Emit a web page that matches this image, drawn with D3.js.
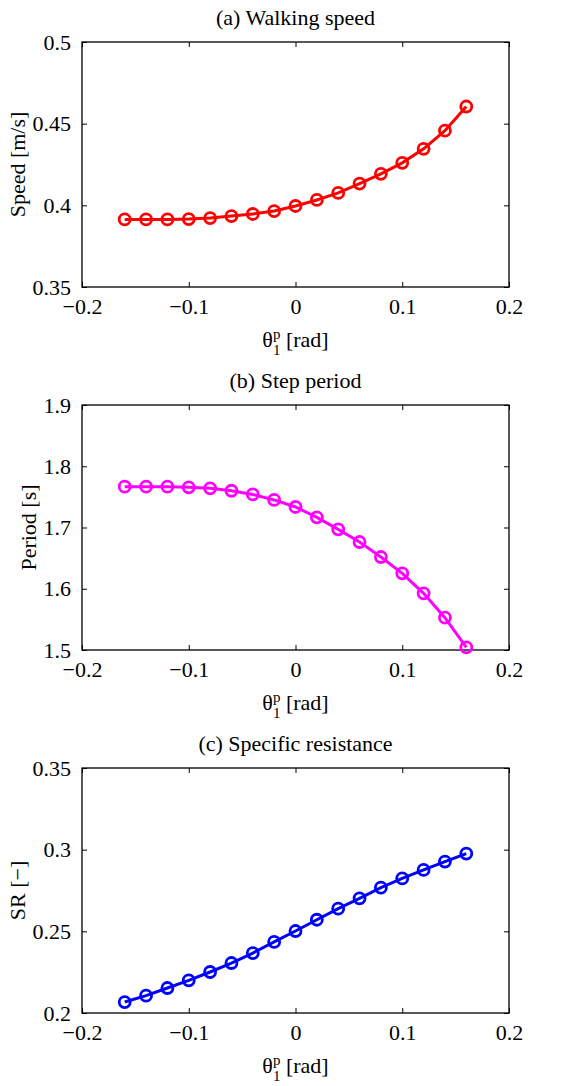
<!DOCTYPE html>
<html>
<head>
<meta charset="utf-8">
<script src="https://cdn.jsdelivr.net/npm/d3@7"></script>
<style>
  body { margin: 0; background: #fff; }
  text { font-family: "Liberation Serif", "Times New Roman", serif; }
</style>
</head>
<body>
<div id="chart"></div>
<script>
var width = 566;
var height = 1086;

// shared x values (theta_1^p, rad)
var thetaP = [-0.16, -0.14, -0.12, -0.10, -0.08, -0.06, -0.04, -0.02, 0,
              0.02, 0.04, 0.06, 0.08, 0.10, 0.12, 0.14, 0.16];
var xTicks = [-0.2, -0.1, 0, 0.1, 0.2];

// (a) walking speed
var speed = [0.3914, 0.3914, 0.3914, 0.3916, 0.3922, 0.3934, 0.3947, 0.3965, 0.3996,
             0.4033, 0.4076, 0.4133, 0.4193, 0.4260, 0.4346, 0.4457, 0.4605];
var speedTicks = [0.35, 0.4, 0.45, 0.5];

// (b) step period
var period = [1.7667, 1.7667, 1.7667, 1.7656, 1.764, 1.760, 1.754, 1.745, 1.7335,
              1.7166, 1.697, 1.6763, 1.6518, 1.6252, 1.5925, 1.5528, 1.5044];
var periodTicks = [1.5, 1.6, 1.7, 1.8, 1.9];

// (c) specific resistance
var sr = [0.2067, 0.2106, 0.2153, 0.2200, 0.2251, 0.2306, 0.2367, 0.2435, 0.2502,
          0.2571, 0.2639, 0.2702, 0.2767, 0.2824, 0.2876, 0.2927, 0.2976];
var srTicks = [0.2, 0.25, 0.3, 0.35];

var panels = [
  {title: "(a) Walking speed", ylabel: "Speed [m/s]", values: speed, ticks: speedTicks,
   color: "#ff0000", top: 42, ylabelX: 17},
  {title: "(b) Step period", ylabel: "Period [s]", values: period, ticks: periodTicks,
   color: "#ff00ff", top: 405, ylabelX: 28},
  {title: "(c) Specific resistance", ylabel: "SR [\u2212]", values: sr, ticks: srTicks,
   color: "#0000ff", top: 768, ylabelX: 17}
];

var left = 82, right = 509, plotH = 245;
var fontSize = 22;
var tickLen = 5;

var svg = d3.select("#chart")
  .append("svg")
  .attr("width", width)
  .attr("height", height);

function fmt(d) {
  return String(+d.toFixed(3)).replace("-", "\u2212");
}

panels.forEach(function(p) {
  var top = p.top, bottom = top + plotH;

  var x = d3.scaleLinear()
    .domain([xTicks[0], xTicks[xTicks.length - 1]])
    .range([left, right]);
  var y = d3.scaleLinear()
    .domain([p.ticks[0], p.ticks[p.ticks.length - 1]])
    .range([bottom, top]);

  var g = svg.append("g");

  // axes: bottom/left with labels, top/right ticks only (inside)
  g.append("g")
    .attr("transform", "translate(0," + bottom + ")")
    .call(d3.axisBottom(x).tickValues(xTicks).tickSizeInner(-tickLen).tickSizeOuter(0).tickPadding(11).tickFormat(fmt));
  g.append("g")
    .attr("transform", "translate(0," + top + ")")
    .call(d3.axisTop(x).tickValues(xTicks).tickSizeInner(-tickLen).tickSizeOuter(0).tickFormat(""));
  g.append("g")
    .attr("transform", "translate(" + left + ",0)")
    .call(d3.axisLeft(y).tickValues(p.ticks).tickSizeInner(-tickLen).tickSizeOuter(0).tickPadding(11).tickFormat(fmt));
  g.append("g")
    .attr("transform", "translate(" + right + ",0)")
    .call(d3.axisRight(y).tickValues(p.ticks).tickSizeInner(-tickLen).tickSizeOuter(0).tickFormat(""));

  g.selectAll(".domain").remove();
  g.selectAll(".tick line").attr("stroke", "#000").attr("stroke-width", 1);
  g.selectAll(".tick text")
    .attr("fill", "#000")
    .style("font-size", fontSize + "px")
    .style("font-family", "'Liberation Serif', 'Times New Roman', serif");

  g.append("rect")
    .attr("x", left).attr("y", top)
    .attr("width", right - left).attr("height", plotH)
    .attr("fill", "none").attr("stroke", "#000").attr("stroke-width", 1.3);

  // title
  g.append("text")
    .attr("x", (left + right) / 2)
    .attr("y", top - 17)
    .attr("text-anchor", "middle")
    .style("font-size", fontSize + "px")
    .text(p.title);

  // y label
  g.append("text")
    .attr("transform", "translate(" + p.ylabelX + "," + (top + plotH / 2) + ") rotate(-90)")
    .attr("text-anchor", "middle")
    .attr("dominant-baseline", "central")
    .style("font-size", fontSize + "px")
    .text(p.ylabel);

  // x label: theta_1^p [rad]
  var xl = g.append("text")
    .attr("x", (left + right) / 2)
    .attr("y", bottom + 60)
    .attr("text-anchor", "middle")
    .style("font-size", fontSize + "px");
  xl.append("tspan").text("\u03b8");
  xl.append("tspan").attr("dy", -8).style("font-size", "15px").text("p");
  xl.append("tspan").attr("dx", -7.5).attr("dy", 16).style("font-size", "15px").text("1");
  xl.append("tspan").attr("dy", -8).text(" [rad]");

  // data line + markers
  var pts = thetaP.map(function(t, i) { return [t, p.values[i]]; });
  var line = d3.line()
    .x(function(d) { return x(d[0]); })
    .y(function(d) { return y(d[1]); });

  g.append("path")
    .datum(pts)
    .attr("d", line)
    .attr("fill", "none")
    .attr("stroke", p.color)
    .attr("stroke-width", 3);

  g.selectAll("circle")
    .data(pts)
    .enter().append("circle")
    .attr("cx", function(d) { return x(d[0]); })
    .attr("cy", function(d) { return y(d[1]); })
    .attr("r", 5.5)
    .attr("fill", "none")
    .attr("stroke", p.color)
    .attr("stroke-width", 2.8);
});
</script>
</body>
</html>
